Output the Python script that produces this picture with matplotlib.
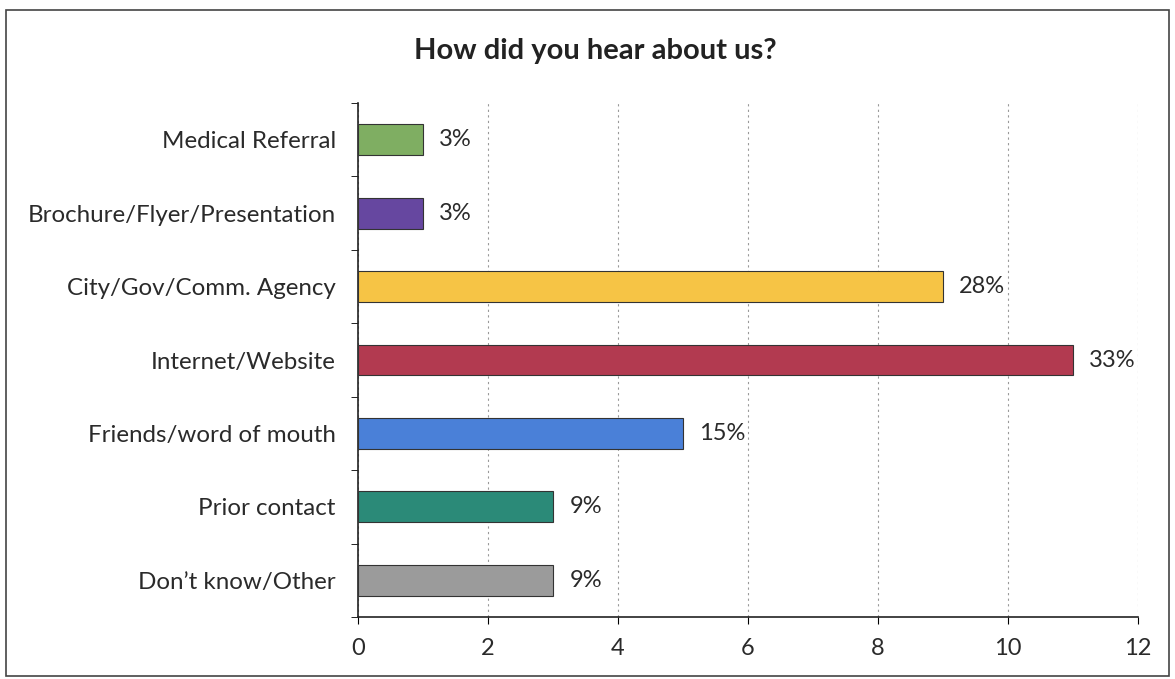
import matplotlib
matplotlib.use("Agg")
import matplotlib.pyplot as plt
from matplotlib.patches import Rectangle

categories = ["Medical Referral", "Brochure/Flyer/Presentation", "City/Gov/Comm. Agency",
              "Internet/Website", "Friends/word of mouth", "Prior contact", "Don\u2019t know/Other"]
counts = [1, 1, 9, 11, 5, 3, 3]
pct_labels = ["3%", "3%", "28%", "33%", "15%", "9%", "9%"]
colors = ["#7fae62", "#6647a0", "#f6c445", "#b23a50", "#4a80d8", "#2b8a78", "#9b9b9b"]
xticks = [0, 2, 4, 6, 8, 10, 12]

plt.rcParams['font.family'] = ['Lato', 'DejaVu Sans']
fig = plt.figure(figsize=(11.75, 6.79), dpi=100)
ax = fig.add_axes([0.3047, 0.0913, 0.6638, 0.757])

n = len(categories)
ypos = list(range(n))
ax.barh(ypos, counts, height=0.42, color=colors, edgecolor="#333333", linewidth=0.8, zorder=3)
for y, v, lab in zip(ypos, counts, pct_labels):
    ax.text(v + 0.25, y, lab, va="center", ha="left", fontsize=17, color="#2a2a2a", zorder=4)

ax.set_ylim(n - 0.5, -0.5)
ax.set_xlim(0, 12)
ax.set_xticks(xticks)
ax.set_xticklabels([str(t) for t in xticks], fontsize=17, color="#2a2a2a")
ax.set_yticks(ypos)
ax.set_yticklabels(categories, fontsize=17.4, color="#2a2a2a")
ax.tick_params(axis="y", length=0, pad=16)
ax.set_yticks([i - 0.5 for i in range(n + 1)], minor=True)
ax.tick_params(axis="y", which="minor", length=5, direction="out")
ax.tick_params(axis="x", length=5, direction="out", pad=10)
ax.xaxis.grid(True, linestyle=(0, (2, 3)), color="#999999", linewidth=0.8, zorder=0)
for s in ["top", "right"]:
    ax.spines[s].set_visible(False)
ax.spines["left"].set_color("#222222")
ax.spines["bottom"].set_color("#222222")
ax.spines["left"].set_linewidth(1.2)
ax.spines["bottom"].set_linewidth(1.2)

fig.text(0.507, 0.925, "How did you hear about us?", ha="center", va="center",
         fontsize=21, fontweight="bold", color="#222222")

fig.patches.append(Rectangle((0.005, 0.005), 0.99, 0.98, transform=fig.transFigure,
                             fill=False, edgecolor="#444444", linewidth=1.2))

fig.savefig("out.png", dpi=100)
